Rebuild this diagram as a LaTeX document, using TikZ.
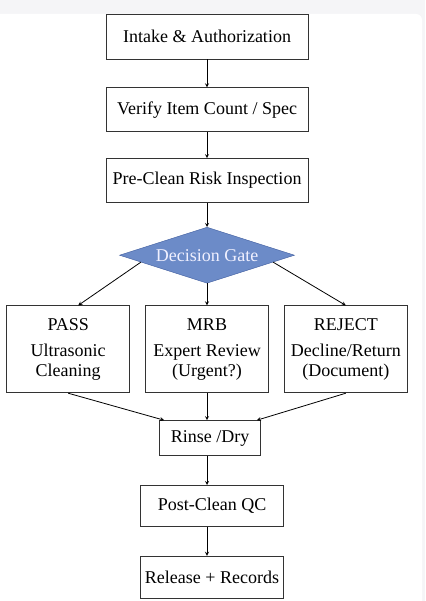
\documentclass[tikz,border=0pt]{standalone}
\usepackage{fontspec}
\setmainfont{Liberation Serif}
\usetikzlibrary{shapes.geometric,arrows,positioning,calc}

\definecolor{gatefill}{RGB}{108,139,200}
\definecolor{gateline}{RGB}{62,92,158}
\definecolor{pagegray}{RGB}{245,245,247}

\begin{document}
\begin{tikzpicture}[
    x=1pt, y=1pt,
    node distance=28pt and 15pt,
    stepbox/.style={rectangle, draw=black!80, line width=0.8pt, text centered, align=center, font=\fontsize{18}{20}\selectfont, inner sep=2pt, minimum width=202pt, minimum height=44pt},
    optbox/.style={stepbox, minimum width=123pt, minimum height=87pt},
    gate/.style={diamond, draw=gateline, fill=gatefill, text=white!94!blue, font=\fontsize{18}{20}\selectfont, minimum width=175pt, minimum height=56pt, inner sep=0pt, aspect=3.1},
    arrow/.style={->, >=stealth, line width=0.8pt}
]
    % page
    \useasboundingbox (0,0) rectangle (425,-601);
    \fill[pagegray] (0,0) rectangle (425,-601);
    \fill[white] (0,-610) -- (0,-14) [rounded corners=6pt] -- (422,-14) -- (422,-610) -- cycle;

    \node[stepbox, minimum height=45pt] (intake) at (207,-36.5) {Intake \& Authorization};
    \node[stepbox, below=28pt of intake] (verify) {Verify Item Count / Spec};
    \node[stepbox, below=26pt of verify] (inspect) {Pre-Clean Risk Inspection};
    \node[gate, below=24pt of inspect] (gate) {Decision Gate};

    \node[optbox, below=22pt of gate] (mrb) {MRB\\[6pt]Expert Review\\(Urgent?)};
    \node[optbox, left=of mrb] (pass) {PASS\\[6pt]Ultrasonic\\Cleaning};
    \node[optbox, right=of mrb] (reject) {REJECT\\[6pt]Decline/Return\\(Document)};

    \node[stepbox, minimum width=101pt, minimum height=35pt, below=27pt of mrb, xshift=3pt] (rinse) {Rinse /Dry};
    \node[stepbox, minimum width=143pt, minimum height=41pt, below=29pt of rinse, xshift=2pt] (postqc) {Post-Clean QC};
    \node[stepbox, minimum width=143pt, minimum height=42pt, below=29pt of postqc] (release) {Release + Records};

    \draw[arrow] (intake) -- (verify);
    \draw[arrow] (verify) -- (inspect);
    \draw[arrow] (inspect) -- (gate);
    \draw[arrow] (gate.186) -- ($(pass.north)+(10pt,0)$);
    \draw[arrow] (gate) -- (mrb);
    \draw[arrow] (gate.354) -- (reject.north);
    \draw[arrow] (pass.south) -- ($(rinse.north west)+(5pt,0)$);
    \draw[arrow] (mrb.south) -- (mrb.south |- rinse.north);
    \draw[arrow] (reject.south) -- ($(rinse.north east)+(-4pt,0)$);
    \draw[arrow] (intake.south |- rinse.south) -- (intake.south |- postqc.north);
    \draw[arrow] (intake.south |- postqc.south) -- (intake.south |- release.north);
\end{tikzpicture}
\end{document}
